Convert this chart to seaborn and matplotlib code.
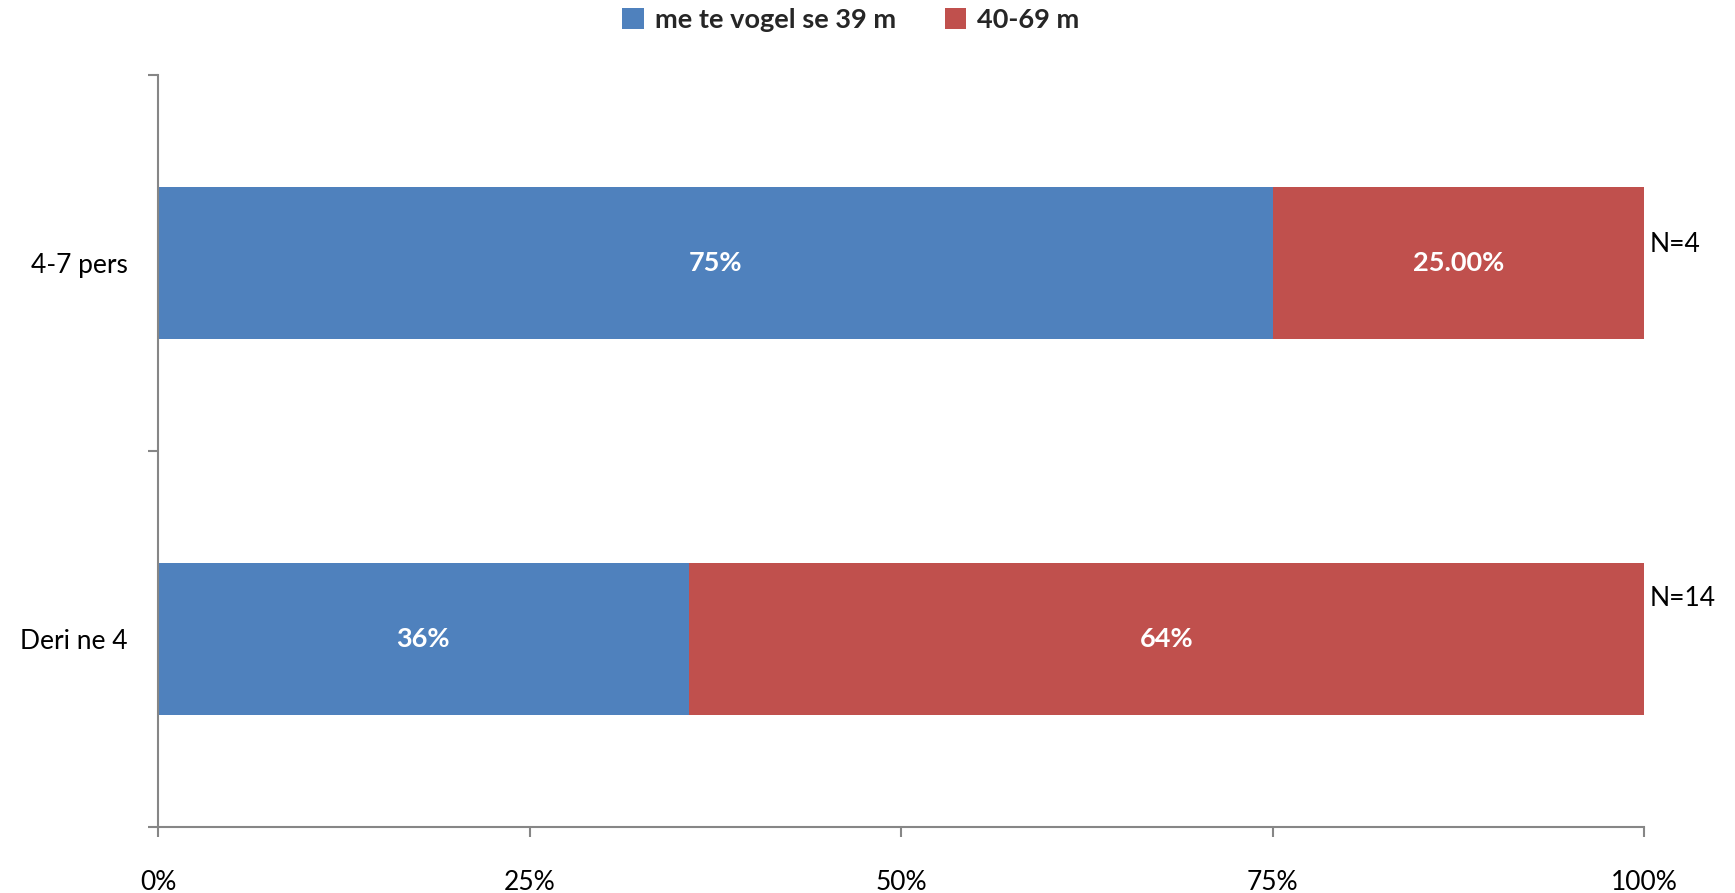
import matplotlib
matplotlib.use("Agg")
import matplotlib.pyplot as plt
from matplotlib.patches import Patch
import seaborn as sns
import pandas as pd

categories = ["4-7 pers", "Deri ne 4"]
series_names = ["me te vogel se 39 m", "40-69 m"]
blue_vals = [75.0, 35.7]
red_vals = [25.0, 64.3]
blue_labels = ["75%", "36%"]
red_labels = ["25.00%", "64%"]
n_labels = ["N=4", "N=14"]
xticks = [0, 25, 50, 75, 100]
xtick_labels = ["0%", "25%", "50%", "75%", "100%"]

sns.set_style("white")
plt.rcParams["font.family"] = ["Lato", "DejaVu Sans"]

colors = ["#4F81BD", "#C0504D"]
grey = "#868686"

df = pd.DataFrame({
    "cat": categories,
    "blue": blue_vals,
    "red": red_vals,
})
df["total"] = df["blue"] + df["red"]

fig = plt.figure(figsize=(17.35, 8.93), dpi=100)
ax = fig.add_axes([158 / 1735, 1 - 827 / 893, (1644 - 158) / 1735, (827 - 75) / 893])

sns.barplot(data=df, y="cat", x="total", order=categories, color=colors[1],
            saturation=1, width=0.404, ax=ax, orient="h", edgecolor="none")
sns.barplot(data=df, y="cat", x="blue", order=categories, color=colors[0],
            saturation=1, width=0.404, ax=ax, orient="h", edgecolor="none")

for i, cat in enumerate(categories):
    b = blue_vals[i]
    r = red_vals[i]
    ax.text(b / 2, i, blue_labels[i], ha="center", va="center", color="white",
            fontsize=19.5, fontweight="bold")
    ax.text(b + r / 2, i, red_labels[i], ha="center", va="center", color="white",
            fontsize=19.5, fontweight="bold")

n_offsets = [-0.048, -0.109]
for i, lab in enumerate(n_labels):
    ax.text(100.4, i + n_offsets[i], lab, ha="left", va="center", color="black",
            fontsize=19, clip_on=False)

ax.set_xlim(0, 100)
ax.set_ylim(1.5, -0.5)
ax.set_xlabel("")
ax.set_ylabel("")

ax.set_xticks(xticks)
ax.set_xticklabels(xtick_labels, fontsize=19)
ax.tick_params(axis="x", which="major", bottom=True, direction="out", length=7,
               width=1.5, color=grey, pad=24, labelcolor="black")
ax.set_yticks(range(len(categories)))
ax.set_yticklabels(categories, fontsize=19)
ax.tick_params(axis="y", which="major", left=True, length=0, pad=22,
               labelcolor="black")
ax.set_yticks([-0.5, 0.5, 1.5], minor=True)
ax.tick_params(axis="y", which="minor", left=True, direction="out", length=7,
               width=1.5, color=grey)

for s in ["top", "right"]:
    ax.spines[s].set_visible(False)
for s in ["left", "bottom"]:
    ax.spines[s].set_color(grey)
    ax.spines[s].set_linewidth(1.5)
ax.grid(False)

handles = [Patch(facecolor=colors[0], edgecolor="none", label=series_names[0]),
           Patch(facecolor=colors[1], edgecolor="none", label=series_names[1])]
fig.legend(handles=handles, loc="center", bbox_to_anchor=(851 / 1735, 1 - 20 / 893),
           ncol=2, frameon=False, handlelength=0.8, handleheight=0.8,
           handletextpad=0.4, columnspacing=1.8,
           prop={"size": 19.5, "weight": "bold"})

fig.savefig("out.png", dpi=100)
